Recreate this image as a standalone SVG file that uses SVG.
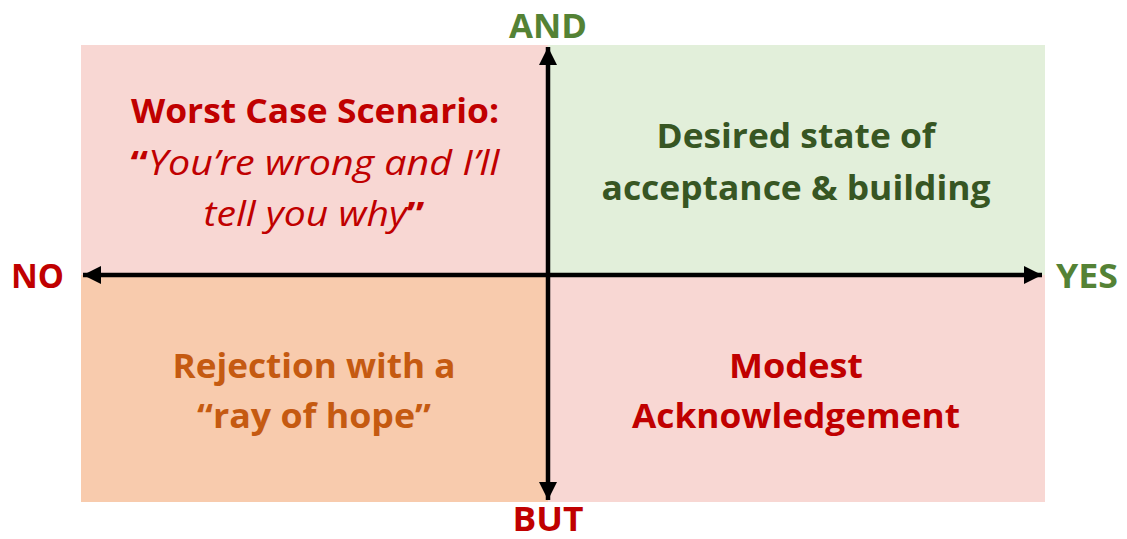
<svg xmlns="http://www.w3.org/2000/svg" width="1127" height="539" viewBox="0 0 1127 539">
<style>
text{font-family:"Open Sans","Noto Sans","Liberation Sans",sans-serif;font-weight:bold;text-anchor:middle}
.q{font-size:34px}
.ax{font-size:34px}
.red{fill:#C00000}
.grn{fill:#548235}
.dgrn{fill:#375623}
.org{fill:#C55A11}
.it{font-style:italic;font-weight:normal}
.axis{stroke:#000;stroke-width:4.5;fill:none}
</style>
<defs>
<marker id="ah" viewBox="0 0 10 10" refX="10" refY="5" markerWidth="4" markerHeight="4" orient="auto-start-reverse" markerUnits="strokeWidth">
<path d="M0,0 L10,5 L0,10 z" fill="#000"/>
</marker>
</defs>
<rect width="1127" height="539" fill="#fff"/>
<g id="q-worst">
<rect x="81" y="45" width="467" height="230" fill="#F8D7D3"/>
<text class="q red" x="315" y="123" textLength="368" lengthAdjust="spacingAndGlyphs">Worst Case Scenario:</text>
<text class="q red" x="315" y="175" textLength="369" lengthAdjust="spacingAndGlyphs"><tspan>“</tspan><tspan class="it">You’re wrong and I’ll</tspan></text>
<text class="q red" x="314" y="226" textLength="221" lengthAdjust="spacingAndGlyphs"><tspan class="it">tell you why</tspan><tspan>”</tspan></text>
</g>
<g id="q-desired">
<rect x="548" y="45" width="497" height="230" fill="#E2EFDA"/>
<text class="q dgrn" x="796" y="148" textLength="279" lengthAdjust="spacingAndGlyphs">Desired state of</text>
<text class="q dgrn" x="796" y="200" textLength="389" lengthAdjust="spacingAndGlyphs">acceptance &amp; building</text>
</g>
<g id="q-rejection">
<rect x="81" y="275" width="467" height="227" fill="#F8CBAD"/>
<text class="q org" x="314" y="378" textLength="283" lengthAdjust="spacingAndGlyphs">Rejection with a</text>
<text class="q org" x="314" y="428" textLength="234" lengthAdjust="spacingAndGlyphs">“ray of hope”</text>
</g>
<g id="q-modest">
<rect x="548" y="275" width="497" height="227" fill="#F8D7D3"/>
<text class="q red" x="796" y="378" textLength="134" lengthAdjust="spacingAndGlyphs">Modest</text>
<text class="q red" x="796" y="428" textLength="328" lengthAdjust="spacingAndGlyphs">Acknowledgement</text>
</g>
<g id="connectors">
<line class="axis" x1="548" y1="500" x2="548" y2="47" marker-start="url(#ah)" marker-end="url(#ah)"/>
<line class="axis" x1="83" y1="275" x2="1042" y2="275" marker-start="url(#ah)" marker-end="url(#ah)"/>
</g>
<g id="labels">
<text class="ax grn" x="548" y="38" textLength="78" lengthAdjust="spacingAndGlyphs">AND</text>
<text class="ax red" x="548" y="531" textLength="71" lengthAdjust="spacingAndGlyphs">BUT</text>
<text class="ax red" x="37.5" y="288" textLength="53" lengthAdjust="spacingAndGlyphs">NO</text>
<text class="ax grn" x="1087" y="288" textLength="62" lengthAdjust="spacingAndGlyphs">YES</text>
</g>
</svg>
